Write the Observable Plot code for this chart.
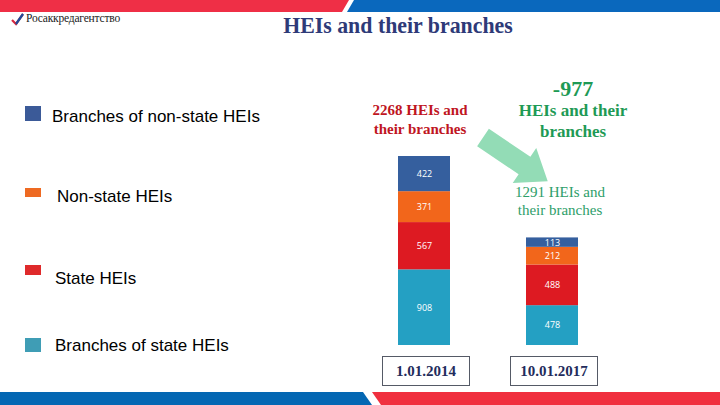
<!DOCTYPE html>
<html>
<head>
<meta charset="utf-8">
<script src="https://cdn.jsdelivr.net/npm/d3@7"></script>
<script src="https://cdn.jsdelivr.net/npm/@observablehq/plot@0.6"></script>
<style>
  html, body { margin: 0; padding: 0; background: #fff; }
  #page { position: relative; width: 720px; height: 405px; overflow: hidden; background: #fff; }
  .abs { position: absolute; white-space: nowrap; }
  .leg { position: absolute; font-family: "Liberation Sans", Arial, sans-serif; font-size: 17px; color: #000; line-height: 1; }
  .sq { position: absolute; width: 16px; }
  .serif { font-family: "Liberation Serif", "DejaVu Serif", serif; }
  .datebox { position: absolute; border: 1px solid #555a66; box-sizing: border-box; height: 30px;
             font-family: "Liberation Serif", serif; font-weight: bold; font-size: 15px; color: #232c5c;
             display: flex; align-items: center; justify-content: center; }
  #plot { position: absolute; left: 0; top: 0; }
</style>
</head>
<body>
<div id="page">
  <svg class="abs" style="left:0;top:0" width="720" height="405">
    <!-- top band -->
    <polygon points="0,0 349,0 342,12 0,12" fill="#ef2f46"/>
    <polygon points="354,0 720,0 720,12 347,12" fill="#0a68bd"/>
    <!-- bottom band -->
    <polygon points="0,392 363,392 372,405 0,405" fill="#0467b3"/>
    <polygon points="372,392 720,392 720,405 381,405" fill="#f0303f"/>
    <!-- logo check -->
    <polyline points="12,20 16,24 23,14" fill="none" stroke="#d8283e" stroke-width="2.2"/>
    <polyline points="16,24 23,14" fill="none" stroke="#1f4c9a" stroke-width="2.2"/>
    <!-- arrow -->
    <polygon id="arrow" fill="#93dcb6"/>
  </svg>
  <div class="abs serif" style="left:26px;top:12px;font-size:11.5px;color:#222;letter-spacing:-0.2px">Росаккредагентство</div>

  <div class="abs serif" style="left:0;width:796px;text-align:center;top:13px;font-size:23px;font-weight:bold;color:#2e3a78;transform:scaleX(0.95)">HEIs and their branches</div>

  <div id="legend"></div>

  <div id="plot"></div>

  <div class="abs serif" style="left:360px;width:120px;text-align:center;top:101px;font-size:15px;font-weight:bold;color:#c0161f;line-height:19px"><span id="total1">2268</span> HEIs and<br>their branches</div>
  <div class="abs serif" id="diff" style="left:512px;width:122px;text-align:center;top:76px;font-size:22px;font-weight:bold;color:#1e9a55">-977</div>
  <div class="abs serif" style="left:505px;width:136px;text-align:center;top:100px;font-size:17px;font-weight:bold;color:#1e9a55;line-height:21px">HEIs and their<br>branches</div>
  <div class="abs serif" style="left:500px;width:120px;text-align:center;top:183px;font-size:15px;color:#2e9e6a;line-height:18px"><span id="total2">1291</span> HEIs and<br>their branches</div>

  <div id="dates"></div>
</div>
<script>
// ---- data ----
const categories = ["Branches of state HEIs", "State HEIs", "Non-state HEIs", "Branches of non-state HEIs"]; // bottom to top
const dates = ["1.01.2014", "10.01.2017"];
const values2014 = [908, 567, 371, 422];
const values2017 = [478, 488, 212, 113];
const colors = ["#24a0c3", "#dd1a22", "#f2661b", "#355f9e"];
const legendColors = ["#3f9db5", "#df2a2b", "#ee6a22", "#3b5a98"];

const rows = [];
dates.forEach((d, i) => {
  const vals = i === 0 ? values2014 : values2017;
  categories.forEach((c, j) => rows.push({date: d, cat: c, value: vals[j]}));
});
const total1 = d3.sum(values2014), total2 = d3.sum(values2017);
document.getElementById("total1").textContent = total1;
document.getElementById("total2").textContent = total2;
document.getElementById("diff").textContent = `-${total1 - total2}`;

const chart = Plot.plot({
  width: 720,
  height: 405,
  marginTop: 0, marginRight: 0, marginBottom: 0, marginLeft: 0,
  style: {background: "transparent", overflow: "visible"},
  x: {domain: dates, range: [320, 655], padding: 0.597, axis: null},
  y: {domain: [0, total1], range: [345, 156], axis: null},
  color: {domain: categories, range: colors},
  marks: [
    Plot.barY(rows, Plot.stackY({x: "date", y: "value", fill: "cat", order: categories})),
    Plot.text(rows, Plot.stackY({x: "date", y: "value", z: "cat", order: categories,
      text: d => String(d.value), fill: "white", fontSize: 9, fontFamily: "Open Sans, sans-serif"}))
  ]
});
document.getElementById("plot").appendChild(chart);

// date boxes under bars, positioned with the x scale
const xs = chart.scale("x");
const datesDiv = document.getElementById("dates");
dates.forEach(d => {
  const cx = xs.apply(d) + xs.bandwidth / 2 + 2;
  const b = document.createElement("div");
  b.className = "datebox";
  b.style.left = (cx - 44) + "px";
  b.style.top = "356px";
  b.style.width = "88px";
  b.textContent = d;
  datesDiv.appendChild(b);
});

// legend (top to bottom)
const legendItems = [
  {label: categories[3], color: legendColors[3], sqTop: 106, sqH: 15, textLeft: 52, textTop: 108},
  {label: categories[2], color: legendColors[2], sqTop: 188, sqH: 9, textLeft: 57, textTop: 188},
  {label: categories[1], color: legendColors[1], sqTop: 265, sqH: 10, textLeft: 55, textTop: 270},
  {label: categories[0], color: legendColors[0], sqTop: 338, sqH: 14, textLeft: 55, textTop: 337}
];
const leg = document.getElementById("legend");
legendItems.forEach(it => {
  const s = document.createElement("div");
  s.className = "sq";
  s.style.left = "25px"; s.style.top = it.sqTop + "px"; s.style.height = it.sqH + "px";
  s.style.background = it.color;
  leg.appendChild(s);
  const t = document.createElement("div");
  t.className = "leg";
  t.style.left = it.textLeft + "px"; t.style.top = it.textTop + "px";
  t.textContent = it.label;
  leg.appendChild(t);
});

// arrow polygon (decorative)
(function() {
  const M = [483, 137.5], d = [0.83, 0.56], p = [0.56, -0.83];
  const w = 10.5, L = 50, hw = 21, hl = 28;
  const C = [M[0] + L * d[0], M[1] + L * d[1]];
  const pt = (o, k) => [o[0] + k * p[0], o[1] + k * p[1]];
  const tip = [C[0] + hl * d[0], C[1] + hl * d[1]];
  const pts = [pt(M, w), pt(C, w), pt(C, hw), tip, pt(C, -hw), pt(C, -w), pt(M, -w)];
  document.getElementById("arrow").setAttribute("points", pts.map(q => q.join(",")).join(" "));
})();
</script>
</body>
</html>
